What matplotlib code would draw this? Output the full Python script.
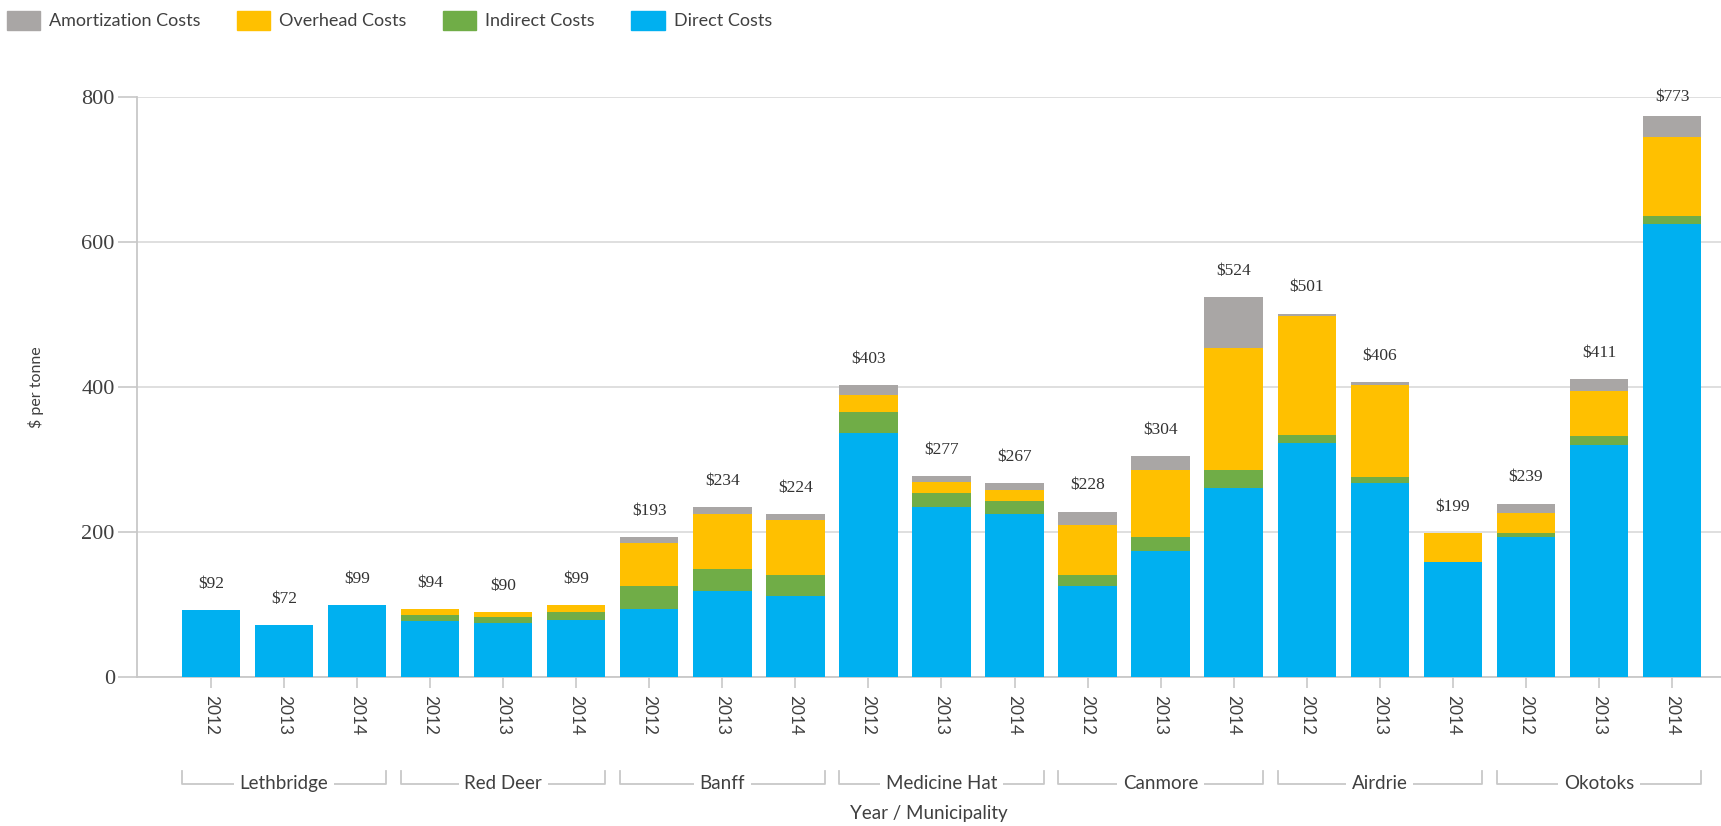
import matplotlib
matplotlib.use("Agg")
import matplotlib.pyplot as plt
from matplotlib.patches import Patch
from matplotlib.transforms import blended_transform_factory
import numpy as np

municipalities = ["Lethbridge", "Red Deer", "Banff", "Medicine Hat",
                  "Canmore", "Airdrie", "Okotoks"]
years = ["2012", "2013", "2014"]

# $ per tonne, one value per municipality/year (21 bars)
direct = [92, 72, 99, 77, 74, 79, 94, 118, 111, 337, 235, 224,
          125, 174, 261, 323, 268, 158, 193, 320, 624]
indirect = [0, 0, 0, 9, 9, 11, 32, 31, 29, 28, 19, 19,
            15, 19, 24, 11, 7, 1, 6, 12, 11]
overhead = [0, 0, 0, 8, 6, 9, 59, 76, 77, 24, 15, 15,
            70, 92, 169, 164, 128, 40, 27, 62, 109]
amortization = [0, 0, 0, 0, 1, 0, 8, 9, 7, 14, 8, 9,
                18, 19, 70, 3, 3, 0, 13, 17, 29]

c_direct = "#00b0f0"
c_indirect = "#70ad47"
c_overhead = "#ffc000"
c_amort = "#a9a6a5"
grid_c = "#d9d9d9"
text_c = "#404040"

fig = plt.figure(figsize=(17.21, 8.26), dpi=100)
ax = fig.add_axes([137 / 1721, 1 - 677 / 826, 1 - 137 / 1721, (677 - 96.6) / 826])

x = np.arange(len(direct))
w = 0.8
bottom = np.zeros(len(x))
for vals, col in [(direct, c_direct), (indirect, c_indirect),
                  (overhead, c_overhead), (amortization, c_amort)]:
    v = np.array(vals, dtype=float)
    ax.bar(x, v, w, bottom=bottom, color=col, edgecolor="none", zorder=3)
    bottom += v

# totals above the bars
for xi, tot in zip(x, bottom):
    ax.text(xi, min(tot + 36, 800), f"${tot:.0f}", ha="center", va="center",
            fontsize=12.5, family="Liberation Serif", color="#333333", zorder=4)

ax.set_xlim(-1.012, 20.67)
ax.set_ylim(0, 800)
ax.set_yticks([0, 200, 400, 600, 800])
ax.yaxis.grid(True, color=grid_c, lw=1.2, zorder=0)
ax.set_axisbelow(True)

for s in ["top", "right"]:
    ax.spines[s].set_visible(False)
for s in ["left", "bottom"]:
    ax.spines[s].set_color("#c8c8c8")
    ax.spines[s].set_linewidth(1.3)

ax.tick_params(axis="y", length=14, width=1.2, color="#c8c8c8", pad=2,
               labelsize=16, labelcolor=text_c)
for lab in ax.get_yticklabels():
    lab.set_family("Liberation Serif")

ax.set_xticks(x)
ax.set_xticklabels(years * len(municipalities), rotation=-90,
                   family="Lato", fontsize=12.5, color=text_c)
ax.tick_params(axis="x", length=8, width=1.2, color="#c8c8c8", pad=5)

# y axis title, placed in figure coordinates
fig.text(36 / 1721, 1 - 387 / 826, "$ per tonne", rotation=90, ha="center",
         va="center", family="Lato", fontsize=11.5, color=text_c)

# municipality brackets under the year labels
tr = blended_transform_factory(ax.transData, fig.transFigure)
y_line = 1 - 783.5 / 826
y_end = 1 - 771 / 826
for g, name in enumerate(municipalities):
    x0 = 3 * g - w / 2
    x1 = 3 * g + 2 + w / 2
    ax.plot([x0, x0, x1, x1], [y_end, y_line, y_line, y_end], transform=tr,
            color="#c8c8c8", lw=1.3, clip_on=False)
    ax.text(3 * g + 1, y_line, name, transform=tr, ha="center", va="center",
            family="Lato", fontsize=13.5, color=text_c,
            bbox=dict(facecolor="white", edgecolor="none", pad=4))

fig.text((137 / 1721 + 1) / 2, 1 - 813 / 826, "Year / Municipality",
         ha="center", va="center", family="Lato", fontsize=13.5, color=text_c)

handles = [Patch(color=c_amort, label="Amortization Costs"),
           Patch(color=c_overhead, label="Overhead Costs"),
           Patch(color=c_indirect, label="Indirect Costs"),
           Patch(color=c_direct, label="Direct Costs")]
leg = fig.legend(handles=handles, loc="upper left", ncol=4, frameon=False,
                 bbox_to_anchor=(7 / 1721, 1 - 11 / 826), borderaxespad=0,
                 borderpad=0, handlelength=1.85, handleheight=1.2,
                 handletextpad=0.5, columnspacing=2.0,
                 prop={"family": "Lato", "size": 13})
for t in leg.get_texts():
    t.set_color(text_c)

fig.savefig("out.png", dpi=100, facecolor="white")
